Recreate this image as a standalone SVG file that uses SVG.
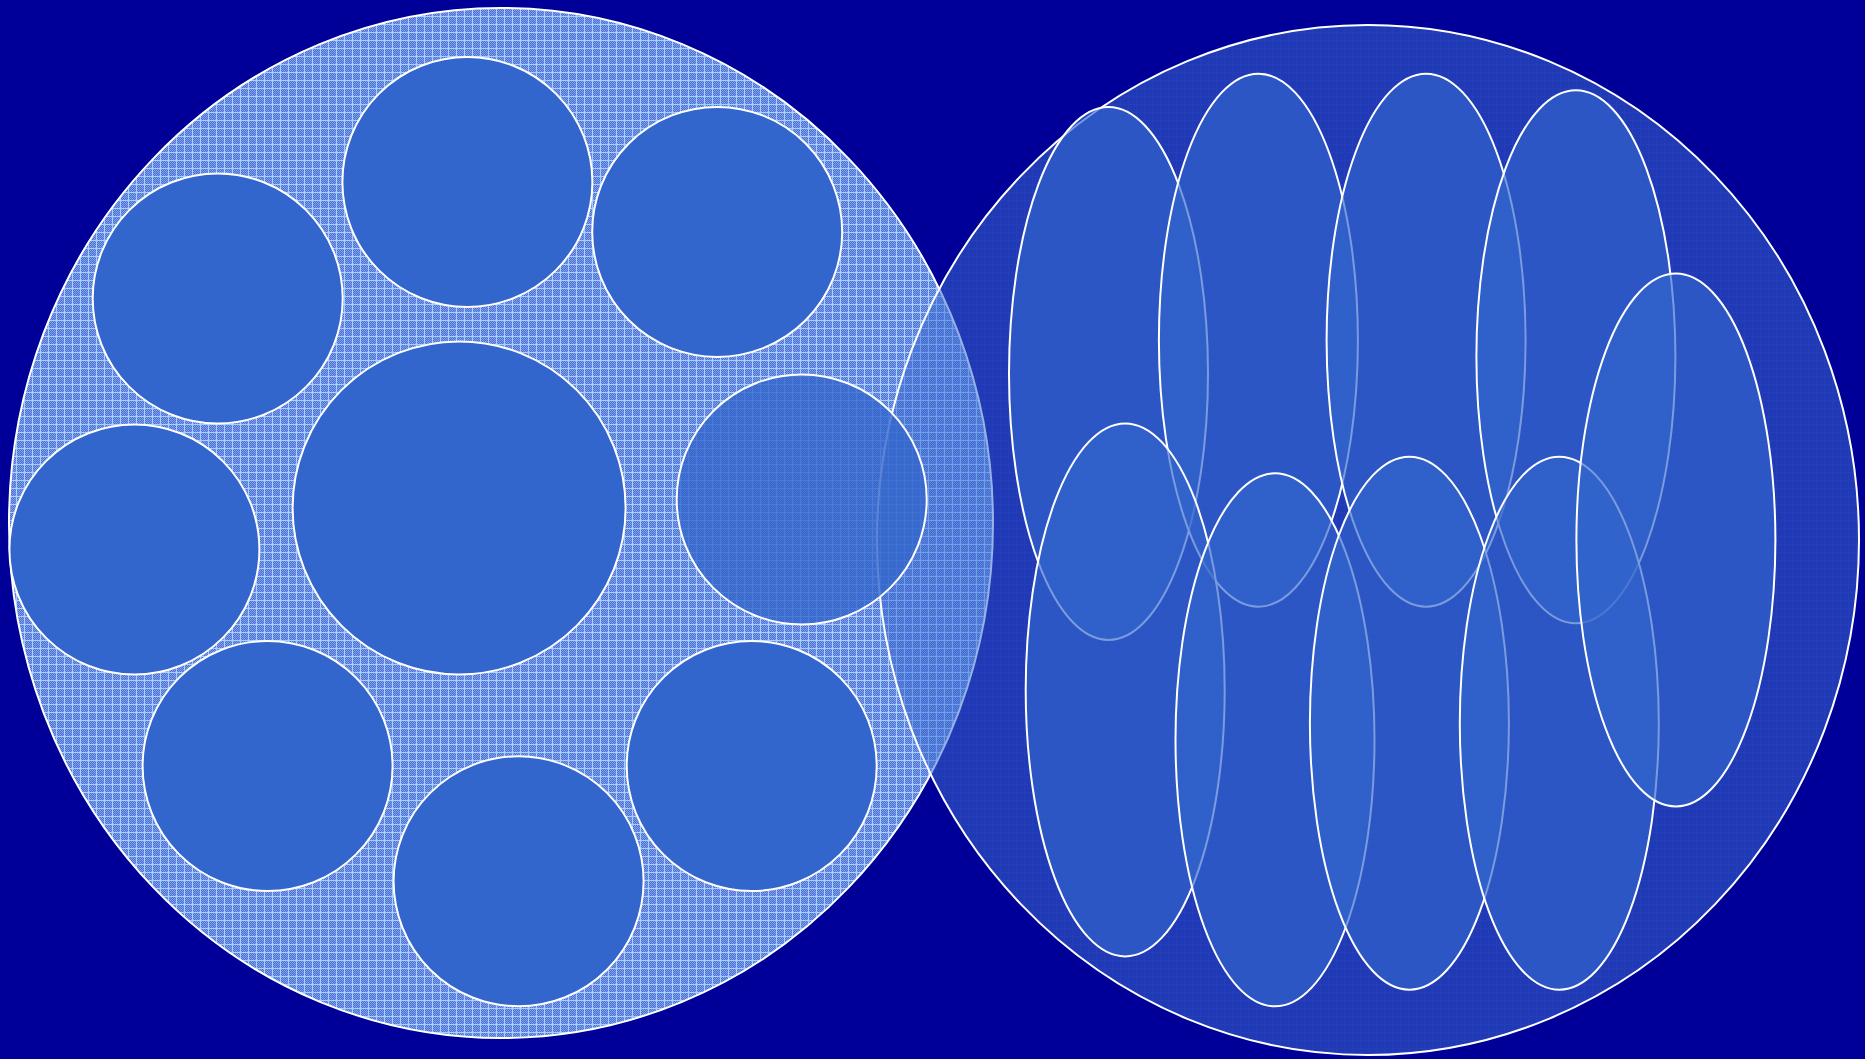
<svg xmlns="http://www.w3.org/2000/svg" width="1865" height="1059" viewBox="0 0 1865 1059">
<style>
.big{stroke:#ffffff;stroke-width:2}
.sc{fill:#3366CC;stroke:#ffffff;stroke-width:2}
.el{fill:#3366CC;fill-opacity:0.65;stroke:#ffffff;stroke-width:2}
</style>
<defs>
<pattern id="chk" width="2" height="2" patternUnits="userSpaceOnUse">
<rect width="2" height="2" fill="#4c70d4"/>
<rect width="1" height="1" fill="#859fe8"/>
<rect x="1" y="1" width="1" height="1" fill="#859fe8"/>
</pattern>
<pattern id="grid" width="8" height="8" patternUnits="userSpaceOnUse">
<rect width="8" height="8" fill="url(#chk)"/>
<rect width="8" height="1" fill="#9fd4ff"/>
<rect width="1" height="8" fill="#9fd4ff"/>
</pattern>
</defs>
<rect width="1865" height="1059" fill="#000099"/>
<g id="left-circle">
<ellipse cx="501" cy="523" rx="492" ry="515" fill="url(#grid)" class="big"/>
</g>
<g id="c1"><circle cx="467.4" cy="182" r="125" class="sc"/></g>
<g id="c2"><circle cx="717.2" cy="231.9" r="125" class="sc"/></g>
<g id="c3"><circle cx="217.7" cy="298.5" r="125" class="sc"/></g>
<g id="c4"><circle cx="459.1" cy="507.9" r="166.5" class="sc"/></g>
<g id="c6"><circle cx="134.4" cy="549.5" r="125" class="sc"/></g>
<g id="c7"><circle cx="267.6" cy="766" r="125" class="sc"/></g>
<g id="c8"><circle cx="751.7" cy="766" r="125" class="sc"/></g>
<g id="c9"><circle cx="518.6" cy="881.3" r="125" class="sc"/></g>
<g id="right-circle">
<ellipse cx="1368" cy="540" rx="491" ry="515" fill="#3366CC" fill-opacity="0.5"/>
<ellipse cx="1368" cy="540" rx="491" ry="515" fill="url(#grid)" fill-opacity="0.07" class="big"/>
</g>
<g id="c5"><circle cx="801.7" cy="499.5" r="125" fill="#3366CC" fill-opacity="0.8" stroke="#ffffff" stroke-width="2"/></g>
<g id="e1"><ellipse cx="1108.5" cy="373.5" rx="99.5" ry="266.5" class="el"/></g>
<g id="e2"><ellipse cx="1258.4" cy="340.2" rx="99.5" ry="266.5" class="el"/></g>
<g id="e3"><ellipse cx="1426.1" cy="340.2" rx="99.5" ry="266.5" class="el"/></g>
<g id="e4"><ellipse cx="1575.9" cy="356.8" rx="99.5" ry="266.5" class="el"/></g>
<g id="e6"><ellipse cx="1125.2" cy="689.9" rx="99.5" ry="266.5" class="el"/></g>
<g id="e7"><ellipse cx="1275" cy="739.8" rx="99.5" ry="266.5" class="el"/></g>
<g id="e8"><ellipse cx="1409.4" cy="723.2" rx="99.5" ry="266.5" class="el"/></g>
<g id="e9"><ellipse cx="1559.3" cy="723.2" rx="99.5" ry="266.5" class="el"/></g>
<g id="e5"><ellipse cx="1675.9" cy="540" rx="99.5" ry="266.5" class="el"/></g>
</svg>
